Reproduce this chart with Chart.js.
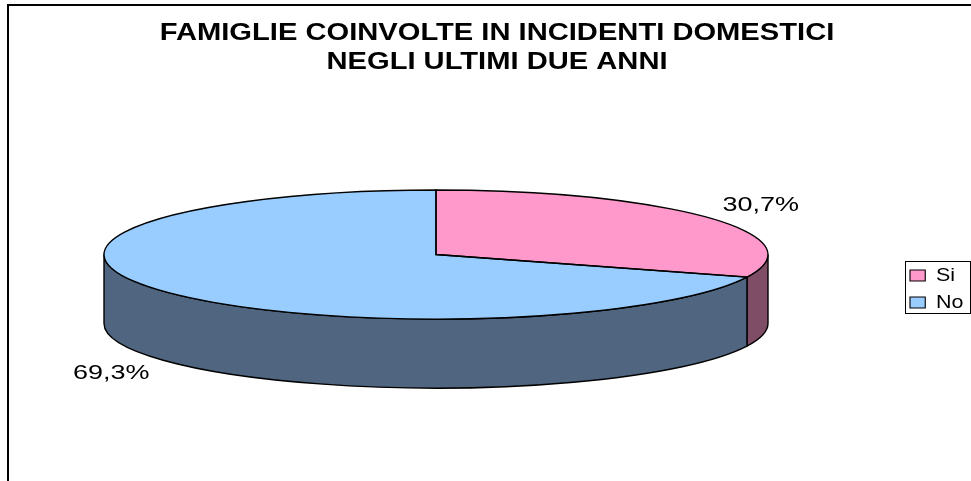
<!DOCTYPE html>
<html><head><meta charset="utf-8">
<style>html,body{margin:0;padding:0;background:#fff}canvas{display:block}</style>
<script src="https://cdn.jsdelivr.net/npm/chart.js@4"></script>
</head><body><canvas id="c" width="971" height="481"></canvas>
<script>
const titleLines = ['FAMIGLIE COINVOLTE IN INCIDENTI DOMESTICI', 'NEGLI ULTIMI DUE ANNI'];
const categories = ['Si', 'No'];
const shares = [30.7, 69.3];
const topColors = ['#FF99CC', '#99CCFF'];
const wallColors = ['#804D66', '#4F6580'];

const CX = 436, CY = 254.5, RX = 332, RY = 64.5, DEPTH = 69;
const FONT = '"Liberation Sans", Arial, sans-serif';

function stretch(box, from, to, sx) {
  if (box._stretched) return;
  box._stretched = true;
  const d = box.draw;
  box.draw = function () {
    const ctx = this.ctx;
    ctx.save();
    ctx.translate(to, 0); ctx.scale(sx, 1); ctx.translate(-from, 0);
    d.apply(this, arguments);
    ctx.restore();
  };
}
function place(box, l, t, r, b) {
  box.left = l; box.top = t; box.right = r; box.bottom = b;
  box.width = r - l; box.height = b - t;
}
const pie3d = {
  id: 'pie3d',
  afterLayout(chart) {
    chart.chartArea = {left: CX - RX, right: CX + RX, top: CY - RY, bottom: CY + RY, width: 2 * RX, height: 2 * RY};
    place(chart.titleBlock, 0, 19.5, 971, 77.5);
    stretch(chart.titleBlock, 485.5, 497, 1.267);
    place(chart.legend, 902, 258, 972, 481);
    stretch(chart.legend, 910, 910, 1.13);
  },
  beforeDraw(chart) {
    const c = chart.ctx;
    c.save();
    c.strokeStyle = '#000'; c.lineWidth = 2;
    c.beginPath(); c.moveTo(8, 481); c.lineTo(8, 5); c.lineTo(971, 5); c.stroke();
    c.lineWidth = 1;
    c.strokeRect(905.5, 261.5, 65, 52);
    c.restore();
  },
  beforeDatasetsDraw(chart) {
    const c = chart.ctx;
    const arcs = chart.getDatasetMeta(0).data;
    c.save();
    c.strokeStyle = '#000'; c.lineWidth = 1.4;
    arcs.forEach((a, i) => {
      const a0 = Math.max(a.startAngle, 0), a1 = Math.min(a.endAngle, Math.PI);
      if (a1 <= a0) return;
      c.fillStyle = wallColors[i];
      c.beginPath();
      c.ellipse(CX, CY + DEPTH, RX, RY, 0, a0, a1);
      c.ellipse(CX, CY, RX, RY, 0, a1, a0, true);
      c.closePath(); c.fill(); c.stroke();
    });
    c.restore();
    c.save();
    c.translate(CX, CY); c.scale(1, RY / RX); c.translate(-CX, -CY);
  },
  afterDatasetsDraw(chart) {
    const c = chart.ctx;
    c.restore();
    const arcs = chart.getDatasetMeta(0).data;
    c.save();
    c.strokeStyle = '#000'; c.lineWidth = 1.4;
    arcs.forEach(a => {
      c.beginPath();
      c.moveTo(CX, CY);
      c.ellipse(CX, CY, RX, RY, 0, a.startAngle, a.endAngle);
      c.closePath(); c.stroke();
    });
    c.fillStyle = '#000';
    c.font = '21px ' + FONT;
    c.textAlign = 'center'; c.textBaseline = 'middle';
    arcs.forEach((a, i) => {
      const m = (a.startAngle + a.endAngle) / 2;
      const x = CX + 1.19 * RX * Math.cos(m);
      const y = CY + 1.34 * RY * Math.sin(m) + (Math.sin(m) > 0 ? DEPTH : 0);
      c.save();
      c.translate(x, y); c.scale(1.285, 1);
      c.fillText(String(shares[i]).replace('.', ',') + '%', 0, 0);
      c.restore();
    });
    c.restore();
  }
};
new Chart(document.getElementById('c'), {
  type: 'pie',
  data: {
    labels: categories,
    datasets: [{data: shares, backgroundColor: topColors, borderWidth: 0, radius: RX}]
  },
  options: {
    responsive: false,
    animation: false,
    plugins: {
      tooltip: {enabled: false},
      title: {
        display: true, text: titleLines, color: '#000', padding: 0,
        font: {family: FONT, size: 23, weight: 'bold', lineHeight: 29 / 23}
      },
      legend: {
        display: true, position: 'right', align: 'start',
        labels: {
          color: '#000', boxWidth: 13.5, boxHeight: 11, padding: 8,
          font: {family: FONT, size: 19, lineHeight: 1},
          generateLabels(chart) {
            return categories.map((t, i) => ({
              text: t, fillStyle: topColors[i], strokeStyle: '#000', lineWidth: 1, index: i
            }));
          }
        }
      }
    }
  },
  plugins: [pie3d]
});
</script></body></html>
